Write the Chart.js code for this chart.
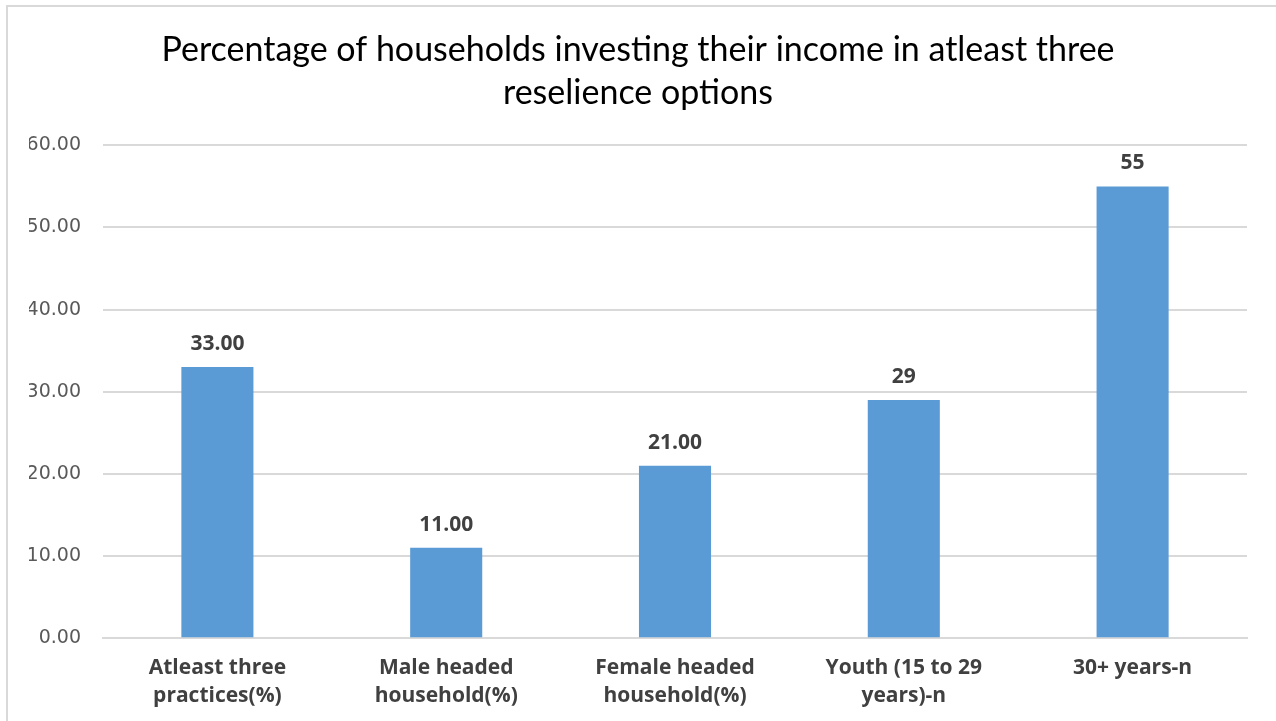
<!DOCTYPE html>
<html lang="en">
<head>
    <meta charset="UTF-8">
    <title>Households investing in resilience options</title>
    <script src="https://cdn.jsdelivr.net/npm/chart.js"></script>
    <style>
        html, body { margin: 0; padding: 0; background: #fff; overflow: hidden; }
        .frame {
            position: absolute; left: 6px; top: 5px;
            width: 1300px; height: 740px;
            border-left: 2px solid #d9d9d9; border-top: 2px solid #d9d9d9;
        }
        #chart { position: absolute; left: 0; top: 0; }
    </style>
</head>
<body>
    <div class="frame"></div>
    <canvas id="chart" width="1276" height="721"></canvas>

    <script>
        // chart data
        const categories = [
            ['Atleast three', 'practices(%)'],
            ['Male headed', 'household(%)'],
            ['Female headed', 'household(%)'],
            ['Youth (15 to 29', 'years)-n'],
            ['30+ years-n']
        ];
        const values = [33, 11, 21, 29, 55];
        const valueLabels = ['33.00', '11.00', '21.00', '29', '55'];
        const yTicks = [0, 10, 20, 30, 40, 50, 60];

        // draws the bold value above each bar
        const barLabels = {
            id: 'barLabels',
            afterDatasetsDraw(chart) {
                const ctx = chart.ctx;
                const meta = chart.getDatasetMeta(0);
                ctx.save();
                ctx.font = 'bold 21px "Open Sans"';
                ctx.fillStyle = '#404040';
                ctx.textAlign = 'center';
                ctx.textBaseline = 'alphabetic';
                meta.data.forEach((bar, i) => {
                    ctx.fillText(valueLabels[i], bar.x, bar.y - 17);
                });
                ctx.restore();
            }
        };

        const ctx = document.getElementById('chart').getContext('2d');
        new Chart(ctx, {
            type: 'bar',
            data: {
                labels: categories,
                datasets: [{
                    data: values,
                    backgroundColor: '#5b9bd5',
                    categoryPercentage: 1,
                    barPercentage: 0.315
                }]
            },
            options: {
                responsive: false,
                animation: false,
                layout: { padding: { left: 29, right: 29, top: 12, bottom: 3 } },
                plugins: {
                    legend: { display: false },
                    tooltip: { enabled: false },
                    title: {
                        display: true,
                        text: ['Percentage of households investing their income in atleast three', 'reselience options'],
                        color: '#000',
                        font: { family: 'Lato', size: 34, weight: 'normal', lineHeight: 1.27 },
                        padding: { top: 16, bottom: 31 }
                    }
                },
                scales: {
                    x: {
                        grid: { display: false },
                        border: { color: '#d9d9d9', width: 2 },
                        ticks: {
                            color: '#404040',
                            font: { family: 'Open Sans', size: 21, weight: 'bold', lineHeight: 1.33 },
                            maxRotation: 0,
                            padding: 8
                        }
                    },
                    y: {
                        min: 0,
                        max: 60,
                        afterBuildTicks(scale) {
                            scale.ticks = yTicks.map(v => ({ value: v }));
                        },
                        afterFit(scale) { scale.width = 74; },
                        grid: { color: '#d9d9d9', lineWidth: 2, drawTicks: false },
                        border: { display: false },
                        ticks: {
                            color: '#595959',
                            font: { family: 'DejaVu Sans', size: 19 },
                            padding: 22,
                            callback: v => v.toFixed(2)
                        }
                    }
                }
            },
            plugins: [barLabels]
        });
    </script>
</body>
</html>
